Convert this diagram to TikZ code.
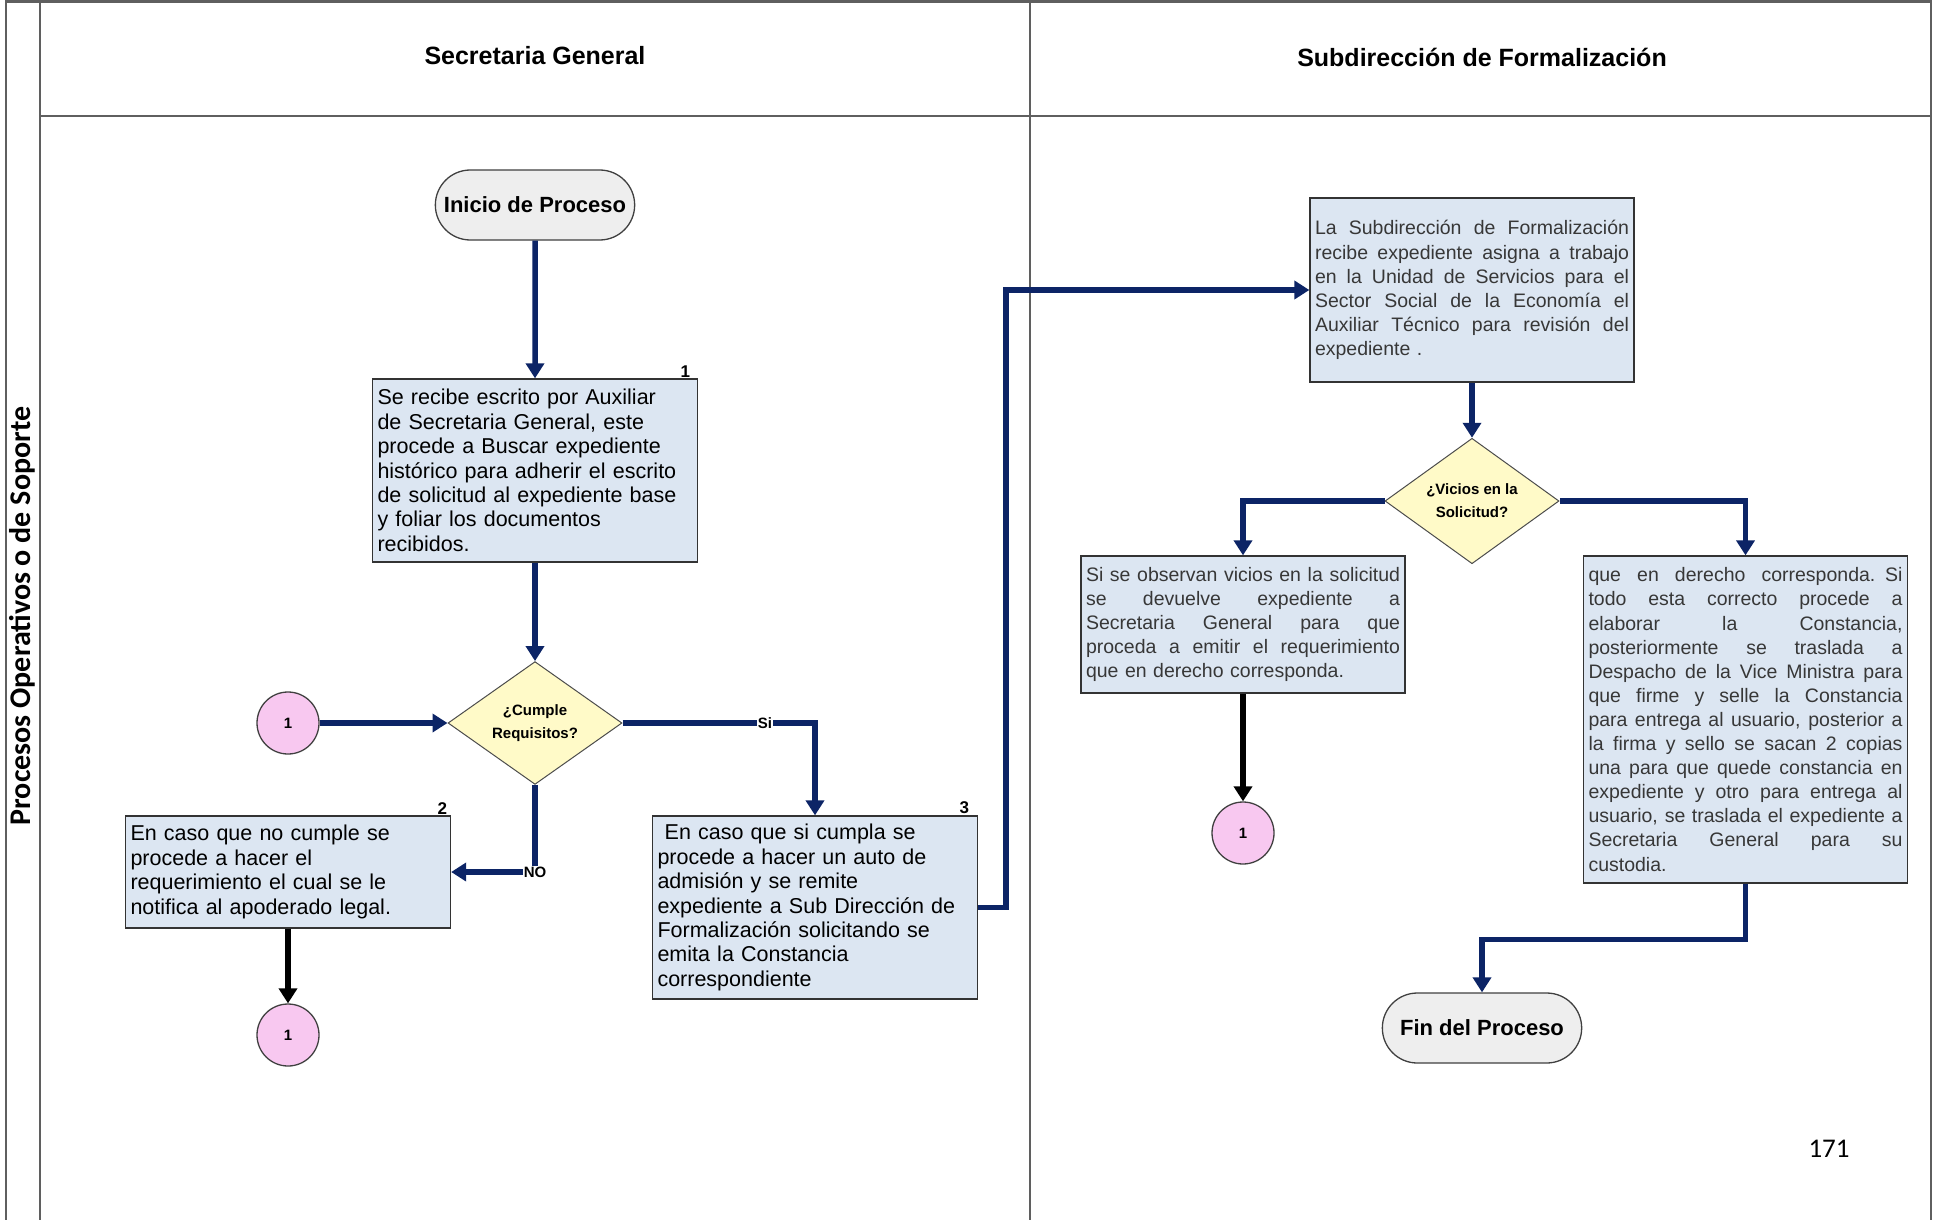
\documentclass[tikz,border=0pt]{standalone}
\usepackage{fontspec}
\setmainfont{Liberation Sans}
\newfontfamily\calfont{Carlito}
\usetikzlibrary{arrows.meta,shapes.geometric,shapes.misc}

\definecolor{navy}{RGB}{12,36,102}
\definecolor{boxblue}{RGB}{220,230,242}
\definecolor{decyellow}{RGB}{255,250,200}
\definecolor{connpink}{RGB}{248,200,240}
\definecolor{termgray}{RGB}{238,238,238}
\definecolor{frameg}{RGB}{95,95,95}
\definecolor{bodygray}{RGB}{55,55,55}

\newcommand{\fs}[2]{\fontsize{#1}{#2}\selectfont}
% one justified line of a fixed-width text block
\newcommand{\jl}[1]{\noindent\hbox to 314pt{\spaceskip=0.278em plus 1fil\relax #1}\par}

\begin{document}
\begin{tikzpicture}[x=1pt,y=-1pt,
  frame/.style={draw=frameg, line width=1.6pt},
  proc/.style={draw=black!80, line width=1.3pt, fill=boxblue, inner sep=5pt,
    align=left, text width=315pt},
  lefttxt/.style={proc, font=\fs{21.5}{24.4}},
  righttxt/.style={proc, text width=314pt, font=\fs{19.5}{24.1}, text=bodygray},
  term/.style={rounded rectangle, draw=black!75, line width=1.3pt, fill=termgray,
    minimum width=206pt, minimum height=70pt, font=\bfseries\fs{22}{26}},
  decision/.style={diamond, draw=black!70, line width=1pt, fill=decyellow,
    minimum width=174pt, minimum height=106pt, inner sep=0pt, align=center,
    font=\bfseries\fs{15}{23}},
  conn/.style={circle, draw=black!75, line width=1.3pt, fill=connpink,
    minimum size=62pt, inner sep=0pt, font=\bfseries\fs{15}{16}},
  num/.style={font=\bfseries\fs{17}{18}, inner sep=1pt, anchor=south east},
  lbl/.style={fill=white, inner sep=1pt, font=\bfseries\fs{15}{17}},
  arr/.style={draw=navy, line width=5.5pt, -{Triangle[width=18pt,length=15pt]}},
  arrk/.style={arr, draw=black},
  head/.style={font=\bfseries\fs{25}{30}}
]
\useasboundingbox (0,0) rectangle (1950,1220);

% swimlane frame
\draw[frame] (6,0) -- (6,1220);
\draw[frame] (40,0) -- (40,1220);
\draw[frame] (1030,0) -- (1030,1220);
\draw[frame] (1931,0) -- (1931,1220);
\draw[frame, line width=2.5pt] (6,1.5) -- (1931,1.5);
\draw[frame, line width=2.5pt] (40,116) -- (1931,116);

\node (lane) [rotate=90, font=\calfont\bfseries\fs{30}{34}] at (22,616)
  {Procesos Operativos o de Soporte};
\node (hsg) [head] at (535,56) {Secretaria General};
\node (hsf) [head] at (1482,57) {Subdirección de Formalización};

% Secretaria General lane
\node (start) [term] at (535,205) {Inicio de Proceso};

\node (b1) [lefttxt, minimum height=183pt] at (535,470.5)
  {Se recibe escrito por Auxiliar\\
   de Secretaria General, este\\
   procede a Buscar expediente\\
   histórico para adherir el escrito\\
   de solicitud al expediente base\\
   y foliar los documentos\\
   recibidos.};
\node (n1) [num, xshift=-7pt] at (b1.north east) {1};

\node (d1) [decision] at (535,723) {¿Cumple\\Requisitos?};
\node (c1) [conn] at (288,723) {1};

\node (b2) [lefttxt, minimum height=112pt] at (288,872)
  {En caso que no cumple se\\
   procede a hacer el\\
   requerimiento el cual se le\\
   notifica al apoderado legal.};
\node (n2) [num, xshift=-3pt] at (b2.north east) {2};
\node (c2) [conn] at (288,1035) {1};

\node (b3) [lefttxt, minimum height=183pt] at (815,907.5)
  {\ En caso que si cumpla se\\
   procede a hacer un auto de\\
   admisión y se remite\\
   expediente a Sub Dirección de\\
   Formalización solicitando se\\
   emita la Constancia\\
   correspondiente};
\node (n3) [num, xshift=-8pt] at (b3.north east) {3};

% Subdireccion de Formalizacion lane
\node (btr) [righttxt, minimum height=184pt] at (1472,290)
  {\jl{La Subdirección de Formalización}
   \jl{recibe expediente asigna a trabajo}
   \jl{en la Unidad de Servicios para el}
   \jl{Sector Social de la Economía el}
   \jl{Auxiliar Técnico para revisión del}
   \noindent expediente .};

\node (d2) [decision] at (1472,501) {¿Vicios en la\\Solicitud?};

\node (bv) [righttxt, minimum height=137pt] at (1243,624.5)
  {\jl{Si se observan vicios en la solicitud}
   \jl{se devuelve expediente a}
   \jl{Secretaria General para que}
   \jl{proceda a emitir el requerimiento}
   \noindent que en derecho corresponda.};
\node (c3) [conn] at (1243,833) {1};

\node (bg) [righttxt, minimum height=327pt] at (1745.5,719.5)
  {\jl{que en derecho corresponda. Si}
   \jl{todo esta correcto procede a}
   \jl{elaborar la Constancia,}
   \jl{posteriormente se traslada a}
   \jl{Despacho de la Vice Ministra para}
   \jl{que firme y selle la Constancia}
   \jl{para entrega al usuario, posterior a}
   \jl{la firma y sello se sacan 2 copias}
   \jl{una para que quede constancia en}
   \jl{expediente y otro para entrega al}
   \jl{usuario, se traslada el expediente a}
   \jl{Secretaria General para su}
   \noindent custodia.};

\node (fin) [term] at (1482,1028) {Fin del Proceso};

\node (pg) [font=\calfont\fs{27}{30}] at (1829,1149) {171};

% connectors
\draw[arr] (start) -- (b1);
\draw[arr] (b1) -- (d1);
\draw[arr] (c1) -- (d1);
\draw[arr] (d1.east) -| node[lbl, pos=0.37] (si) {Si} (b3.north);
\draw[arr] (d1.south) |- node[lbl, pos=0.5] (no) {NO} (b2.east);
\draw[arrk] (b2) -- (c2);
\draw[arr] (b3.east) -- ++(28,0) |- (btr.west);
\draw[arr] (btr) -- (d2);
\draw[arr] (d2.west) -| (bv.north);
\draw[arr] (d2.east) -| (bg.north);
\draw[arrk] (bv) -- (c3);
\draw[arr] (bg.south) -- ++(0,56) -| (fin.north);
\end{tikzpicture}
\end{document}
